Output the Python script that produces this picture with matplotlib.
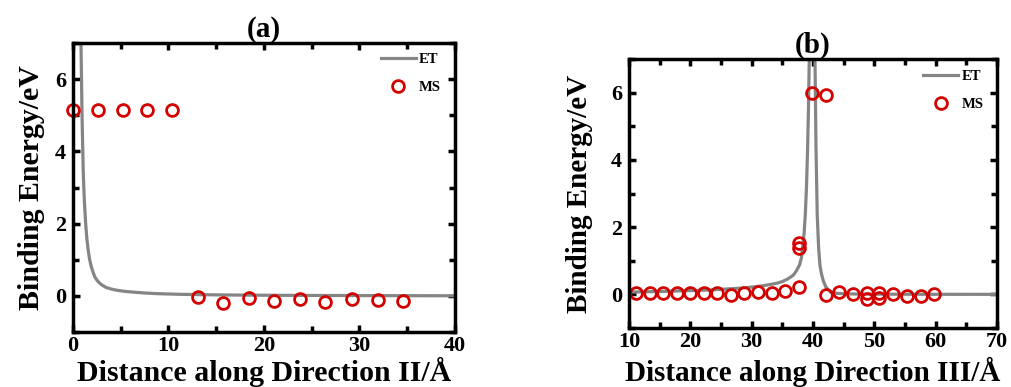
import numpy as np
import matplotlib.pyplot as plt
from matplotlib.ticker import MultipleLocator

plt.rcParams['font.family'] = ['Liberation Serif', 'DejaVu Serif']
plt.rcParams['font.weight'] = 'bold'
plt.rcParams['mathtext.default'] = 'regular'

# (a) Direction II
et_a_x = [0.84, 0.90, 0.95, 1.02, 1.08, 1.15, 1.22, 1.33, 1.45, 1.58, 1.71, 1.85,
          2.0, 2.15, 2.3, 2.55, 2.8, 3.1, 3.5, 4.0, 4.5, 5.0, 5.6, 6.5, 7.5,
          9.0, 11.0, 13.0, 16.0, 20.0, 25.0, 30.0, 35.0, 40.0]
et_a_y = [7.0, 5.9, 5.0, 4.1, 3.4, 2.9, 2.5, 2.0, 1.6, 1.3, 1.06, 0.88,
          0.74, 0.62, 0.52, 0.42, 0.35, 0.29, 0.23, 0.19, 0.16, 0.14, 0.12, 0.10, 0.08,
          0.06, 0.045, 0.035, 0.025, 0.018, 0.012, 0.008, 0.005, 0.003]
ms_a_x = [0.0, 2.6, 5.2, 7.8, 10.4, 13.06, 15.7, 18.4, 21.1, 23.8, 26.4, 29.2, 31.9, 34.6]
ms_a_y = [5.15, 5.15, 5.15, 5.15, 5.15, -0.03, -0.19, -0.07, -0.15, -0.10, -0.16, -0.10, -0.11, -0.15]

# (b) Direction III
et_b_x = [10.0, 12.0, 15.0, 19.4, 23.0, 26.0, 28.5, 30.2, 32.0, 33.2, 34.1, 35.0,
          35.9, 36.8, 37.3, 37.8, 38.1, 38.3, 38.55, 38.75, 38.95, 39.13, 39.28, 39.4,
          39.5, 39.7, 39.9, 40.1, 40.3, 40.5, 40.7, 40.93, 41.14, 41.4, 41.7, 42.1,
          42.5, 42.8, 43.3, 44.0, 45.0, 47.0, 50.0, 55.0, 60.0, 65.0, 70.0]
et_b_y = [0.07, 0.075, 0.085, 0.11, 0.13, 0.16, 0.19, 0.22, 0.26, 0.30, 0.33, 0.38,
          0.46, 0.57, 0.70, 0.87, 1.07, 1.37, 1.8, 2.36, 3.2, 4.35, 5.6, 7.0,
          8.0, 9.5, 10.0, 9.5, 7.5, 4.35, 2.36, 1.37, 0.87, 0.60, 0.40, 0.22,
          0.14, 0.08, 0.05, 0.03, 0.02, 0.01, 0.006, 0.004, 0.002, 0.001, 0.0]
ms_b_x = [11.1, 13.4, 15.5, 17.8, 20.0, 22.2, 24.4, 26.6, 28.8, 31.0, 33.3, 35.5,
          37.8, 37.8, 37.8, 39.9, 42.2, 42.1, 44.2, 46.5, 48.75, 48.75, 50.8, 50.8,
          53.1, 55.3, 57.6, 59.7]
ms_b_y = [0.03, 0.03, 0.03, 0.03, 0.03, 0.03, 0.05, -0.03, 0.05, 0.07, 0.03, 0.09,
          0.22, 1.52, 1.39, 5.98, 5.93, -0.02, 0.08, 0.0, 0.04, -0.15, 0.03, -0.12,
          0.0, -0.05, -0.04, 0.02]

fig = plt.figure(figsize=(10.12, 3.87), dpi=100)
ax1 = fig.add_axes([0.0721, 0.1421, 0.3775, 0.7468])
ax2 = fig.add_axes([0.6215, 0.1525, 0.3636, 0.6950])

panels = [
    (ax1, et_a_x, et_a_y, ms_a_x, ms_a_y, (0, 40), '(a)', 'Distance along Direction II/Å',
     21.5, (-0.073, 0.5), (0.5, -0.086), (0.963, 0.965)),
    (ax2, et_b_x, et_b_y, ms_b_x, ms_b_y, (10, 70), '(b)', 'Distance along Direction III/Å',
     21, (-0.099, 0.5), (0.5, -0.106), (0.963, 0.96)),
]

for ax, ex, ey, mx, my, xlim, title, xlabel, fs, ylc, xlc, legpos in panels:
    ax.plot(ex, ey, color='#858585', lw=2.3, label='ET', zorder=2)
    ax.plot(mx, my, 'o', mfc='none', mec='#d40000', mew=2.0, ms=8.5,
            label='MS', clip_on=False, zorder=2)
    ax.set_xlim(*xlim)
    ax.set_ylim(-1, 7)
    ax.xaxis.set_major_locator(MultipleLocator(10))
    ax.xaxis.set_minor_locator(MultipleLocator(5))
    ax.yaxis.set_minor_locator(MultipleLocator(1))
    ax.set_yticks([0, 2, 4, 6])
    ax.tick_params(which='both', direction='in', top=True, right=True,
                   width=2.5, labelsize=16, pad=5)
    ax.tick_params(axis='x', pad=3)
    ax.tick_params(which='major', length=5)
    ax.tick_params(which='minor', length=4)
    for s in ax.spines.values():
        s.set_linewidth(2.5)
    ax.set_title(title, fontsize=21, fontweight='bold', pad=3)
    ax.set_xlabel(xlabel, fontsize=fs, fontweight='bold')
    ax.set_ylabel('Binding Energy/eV', fontsize=fs, fontweight='bold')
    ax.yaxis.set_label_coords(*ylc)
    ax.xaxis.set_label_coords(*xlc)
    ax.legend(loc='upper right', bbox_to_anchor=legpos, frameon=False,
              fontsize=10.5, handlelength=2.4, labelspacing=1.0,
              borderpad=0, borderaxespad=0, handletextpad=0.2)

fig.savefig('out.png', dpi=100)
